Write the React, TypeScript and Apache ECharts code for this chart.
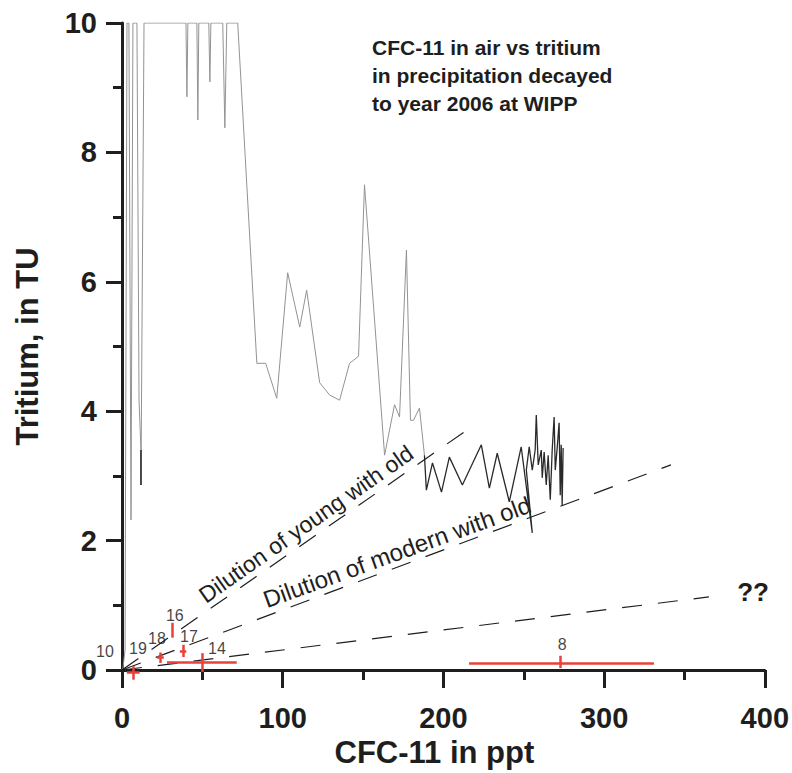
import React, { useEffect, useRef } from "react";
import * as echarts from "echarts";

// Grey trajectory: CFC-11 in air (ppt) vs decayed tritium (TU), clipped at 10
const greyCfc = [
  0, 0.6, 1.9, 3.1, 4.3, 5.6, 6.8, 9.3, 10.6, 11.8, 11.8, 13.7, 39.8, 40.4, 41.0, 46.6, 47.2, 47.8,
  54.0, 54.7, 55.3, 62.7, 64.0, 65.2, 72.0, 83.9, 89.4, 96.3, 103.1, 110.6, 114.9, 123.0, 129.2,
  135.4, 141.6, 147.2, 150.9, 163.4, 169.6, 172.7, 177.0, 179.5, 181.4, 185.1, 188.2,
];
const greyTritium = [
  0, 0.03, 0.31, 10, 10, 2.32, 10, 10, 4.17, 3.4, 2.86, 10, 10, 8.86, 10, 10, 8.5, 10,
  10, 9.09, 10, 10, 8.38, 10, 10, 4.74, 4.74, 4.2, 6.14, 5.3, 5.87, 4.44, 4.25,
  4.17, 4.74, 4.85, 7.5, 3.32, 4.1, 3.91, 6.49, 3.86, 3.86, 4.05, 3.32,
];

// Dark (recent) part of the trajectory
const darkCfc = [
  188.2, 189.4, 193.2, 198.8, 203.7, 211.8, 223.6, 228.6, 233.5, 241.0, 248.4, 255.3, 251.6, 253.4,
  255.3, 257.1, 257.8, 259.0, 260.9, 261.5, 262.7, 264.0, 265.2, 266.5, 267.7, 268.9, 269.6, 270.8,
  272.0, 272.7, 273.3, 273.9, 274.5,
];
const darkTritium = [
  3.32, 2.78, 3.2, 2.75, 3.29, 2.86, 3.48, 2.81, 3.35, 2.6, 3.45, 2.12, 3.09, 3.45,
  3.09, 3.4, 3.94, 3.17, 3.4, 2.97, 3.37, 2.86, 3.32, 2.63, 3.4, 3.91, 3.09, 3.43,
  3.82, 2.7, 3.48, 2.55, 3.43,
];
const stemCfc = [11.8, 11.8];
const stemTritium = [3.4, 2.86];

// Dilution (mixing) lines from the origin
const mixNames = ["young", "modern", "unknown"];
const mixEndCfc = [213.0, 341.6, 365.2];
const mixEndTritium = [3.68, 3.17, 1.13];

// Samples with error bars
const sampleIds = ["10", "19", "18", "16", "17", "14", "8"];
const sampleCfc = [0, 6.8, 23.6, 31.0, 37.9, 49.7, 272.7];
const sampleTritium = [0, -0.03, 0.19, 0.6, 0.29, 0.12, 0.11];
const sampleCfcLow = [0, 3.0, 21.7, 31.0, 36.0, 28.0, 216.0];
const sampleCfcHigh = [0, 11.0, 26.0, 31.0, 40.0, 71.4, 331.0];
const sampleTritiumLow = [0, -0.15, 0.11, 0.5, 0.2, -0.03, 0.03];
const sampleTritiumHigh = [0, 0.06, 0.27, 0.73, 0.39, 0.26, 0.22];

const xMin = 0, xMax = 400, xStep = 100;
const yMin = 0, yMax = 10, yStep = 2;

const FONT = "'Liberation Sans', Arial, Helvetica, sans-serif";
const INK = "#1e1e1e";
const RED = "#e8403a";

const labelOffsets: Record<string, [number, number]> = {
  "10": [-17, -19],
  "19": [5, -23],
  "18": [-3, -19],
  "16": [3, -16],
  "17": [6, -15],
  "14": [15, -14],
  "8": [2, -18],
};

export default function App() {
  const ref = useRef<HTMLDivElement>(null);

  useEffect(() => {
    document.body.style.margin = "0";
    if (!ref.current) return;
    const chart = echarts.init(ref.current, undefined, { renderer: "svg" });

    const zip = (a: number[], b: number[]) => a.map((v, i) => [v, b[i]]);

    const errorSegments: any[] = [];
    sampleIds.forEach((_, i) => {
      if (sampleCfcHigh[i] > sampleCfcLow[i]) {
        errorSegments.push({ coords: [[sampleCfcLow[i], sampleTritium[i]], [sampleCfcHigh[i], sampleTritium[i]]] });
      }
      if (sampleTritiumHigh[i] > sampleTritiumLow[i]) {
        errorSegments.push({ coords: [[sampleCfc[i], sampleTritiumLow[i]], [sampleCfc[i], sampleTritiumHigh[i]]] });
      }
    });

    const mixSegments = mixNames.map((n, i) => ({ name: n, coords: [[0, 0], [mixEndCfc[i], mixEndTritium[i]]] }));

    const axisCommon = {
      type: "value" as const,
      splitLine: { show: false },
      minorSplitLine: { show: false },
      axisLine: { show: true, lineStyle: { color: INK, width: 3 } },
    };

    chart.setOption({
      animation: false,
      backgroundColor: "#ffffff",
      grid: { left: 122, right: 26, top: 23, bottom: 103, containLabel: false },
      xAxis: {
        ...axisCommon,
        min: xMin,
        max: xMax,
        interval: xStep,
        axisTick: { show: true, length: 18, lineStyle: { color: INK, width: 3 } },
        minorTick: { show: true, splitNumber: 2, length: 10, lineStyle: { color: INK, width: 3 } },
        axisLabel: { color: INK, fontSize: 29, fontWeight: "bold", fontFamily: FONT, margin: 33 },
        name: "CFC-11 in ppt",
        nameLocation: "middle",
        nameGap: 61,
        nameTextStyle: { color: INK, fontSize: 31, fontWeight: "bold", fontFamily: FONT, padding: [0, 18, 0, 0] },
      },
      yAxis: {
        ...axisCommon,
        min: yMin,
        max: yMax,
        interval: yStep,
        axisTick: { show: true, length: 16, lineStyle: { color: INK, width: 3 } },
        minorTick: { show: true, splitNumber: 2, length: 9, lineStyle: { color: INK, width: 3 } },
        axisLabel: { color: INK, fontSize: 29, fontWeight: "bold", fontFamily: FONT, margin: 25 },
        name: "Tritium, in TU",
        nameLocation: "middle",
        nameGap: 79,
        nameTextStyle: { color: INK, fontSize: 31, fontWeight: "bold", fontFamily: FONT },
      },
      series: [
        {
          type: "line",
          data: zip(greyCfc, greyTritium),
          symbol: "none",
          lineStyle: { color: "#939393", width: 1 },
          silent: true,
          z: 2,
        },
        {
          type: "line",
          data: zip(darkCfc, darkTritium),
          symbol: "none",
          lineStyle: { color: "#2a2a2a", width: 1.3 },
          silent: true,
          z: 3,
        },
        {
          type: "line",
          data: zip(stemCfc, stemTritium),
          symbol: "none",
          lineStyle: { color: "#2a2a2a", width: 1.5 },
          silent: true,
          z: 3,
        },
        {
          type: "lines",
          coordinateSystem: "cartesian2d",
          polyline: false,
          data: mixSegments,
          lineStyle: { color: INK, width: 1.2, type: [20, 16], opacity: 1 },
          silent: true,
          z: 4,
        },
        {
          type: "lines",
          coordinateSystem: "cartesian2d",
          polyline: false,
          clip: false,
          data: errorSegments,
          lineStyle: { color: RED, width: 2.5, opacity: 1 },
          silent: true,
          z: 5,
        },
        {
          type: "scatter",
          clip: false,
          symbolSize: 0,
          silent: true,
          z: 6,
          data: sampleIds.map((id, i) => ({
            value: [sampleCfc[i], sampleTritium[i]],
            label: {
              show: true,
              formatter: id,
              position: "inside",
              offset: labelOffsets[id],
              color: "#111",
              textBorderWidth: 0,
              fontSize: 16,
              fontFamily: FONT,
            },
          })),
        },
      ],
      graphic: [
        {
          type: "text",
          left: 372,
          top: 33,
          style: {
            text: "CFC-11 in air vs tritium\nin precipitation decayed\nto year 2006 at WIPP",
            fill: INK,
            font: `bold 21px ${FONT}`,
            lineHeight: 28,
          },
        },
        {
          type: "text",
          x: 306,
          y: 524,
          rotation: (35 * Math.PI) / 180,
          style: {
            text: "Dilution of young with old",
            fill: INK,
            font: `23px ${FONT}`,
            align: "center",
            verticalAlign: "middle",
          },
        },
        {
          type: "text",
          x: 397,
          y: 552,
          rotation: (20 * Math.PI) / 180,
          style: {
            text: "Dilution of modern with old",
            fill: INK,
            font: `24px ${FONT}`,
            align: "center",
            verticalAlign: "middle",
          },
        },
        {
          type: "text",
          x: 753,
          y: 592,
          style: {
            text: "??",
            fill: INK,
            font: `bold 26px ${FONT}`,
            align: "center",
            verticalAlign: "middle",
          },
        },
      ],
    });

    return () => chart.dispose();
  }, []);

  return <div ref={ref} style={{ width: 792, height: 773 }} />;
}
